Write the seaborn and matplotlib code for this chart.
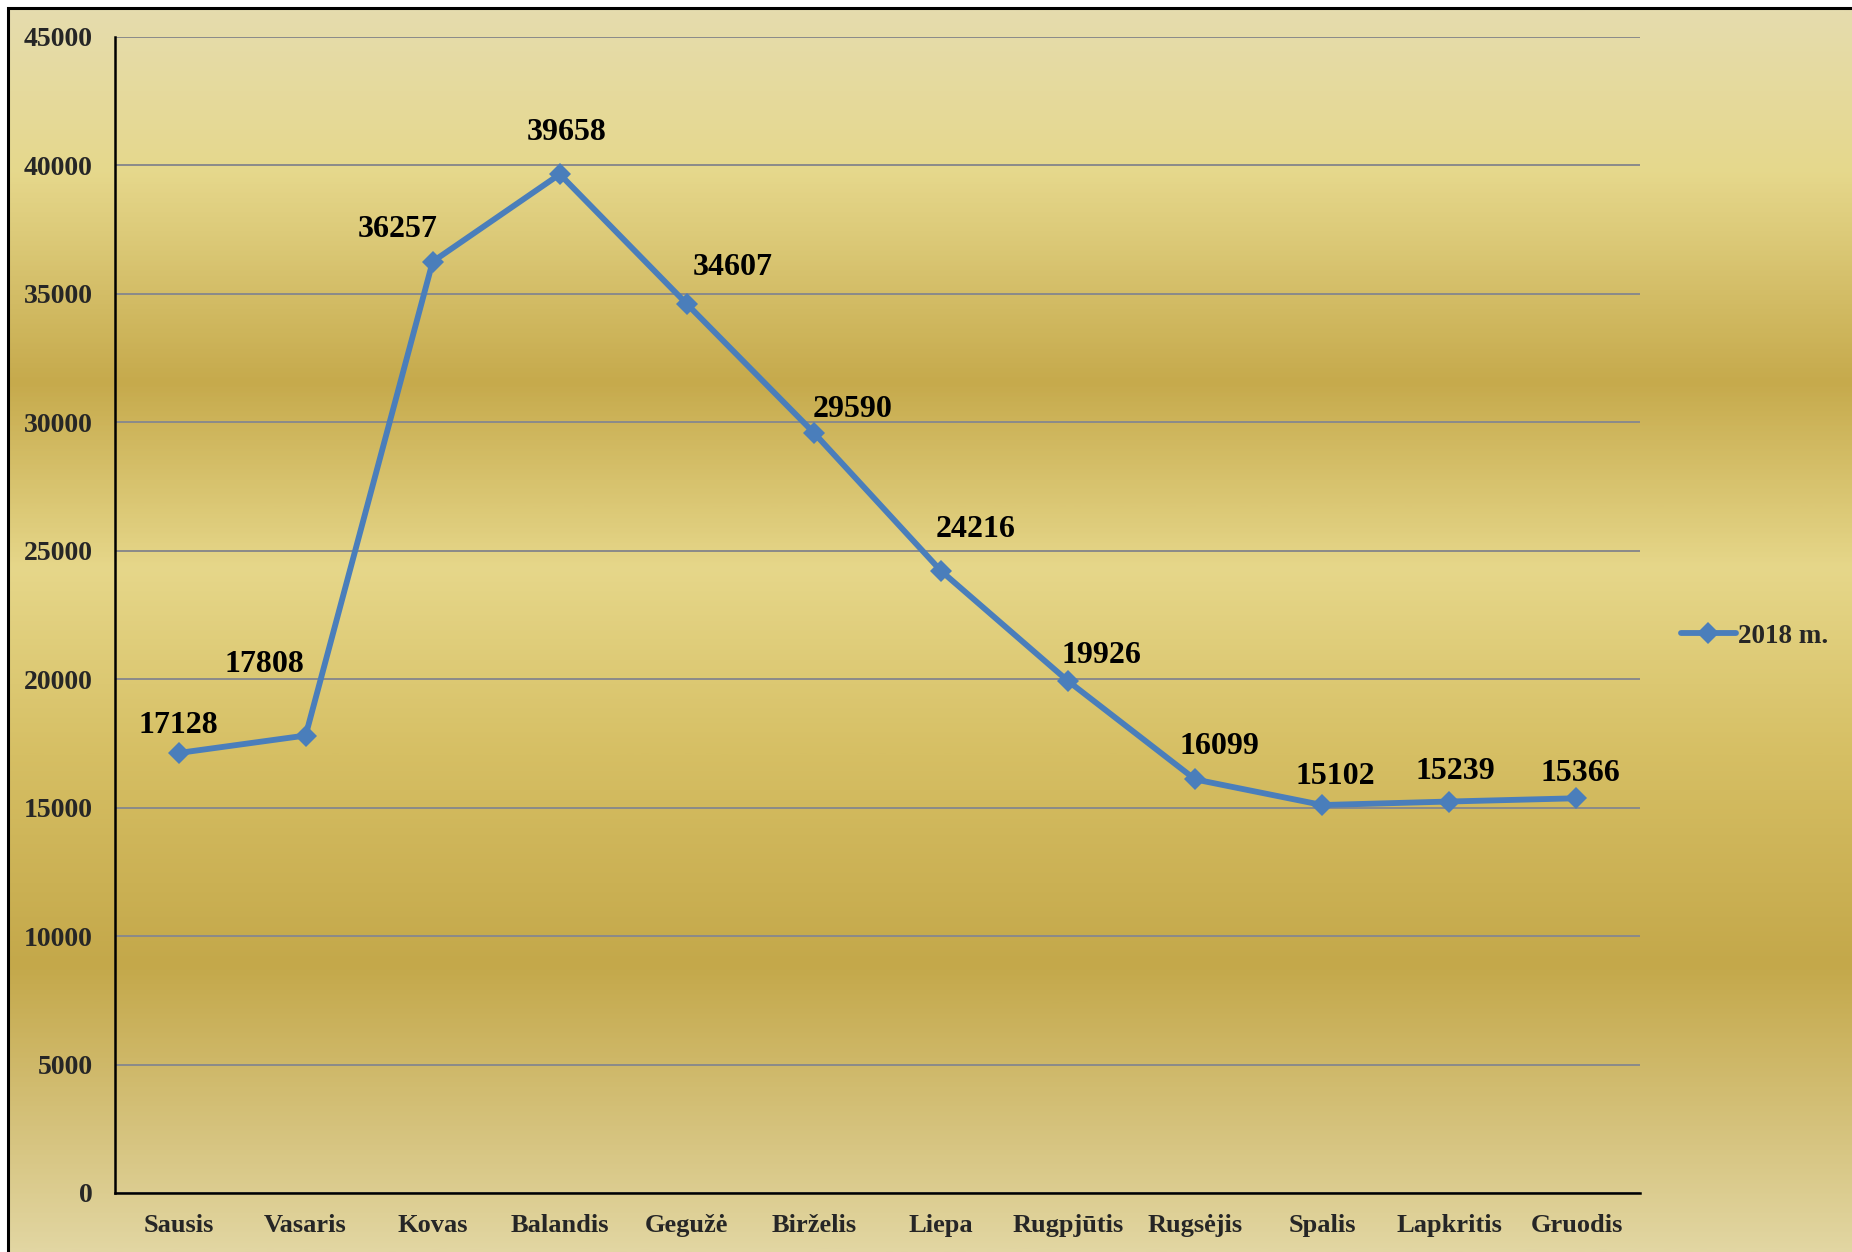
import numpy as np
import pandas as pd
import matplotlib.pyplot as plt
import seaborn as sns
from matplotlib.colors import LinearSegmentedColormap
from matplotlib.patches import Rectangle
from matplotlib.lines import Line2D

months = ['Sausis', 'Vasaris', 'Kovas', 'Balandis', 'Gegužė', 'Birželis',
          'Liepa', 'Rugpjūtis', 'Rugsėjis', 'Spalis', 'Lapkritis', 'Gruodis']
values = [17128, 17808, 36257, 39658, 34607, 29590,
          24216, 19926, 16099, 15102, 15239, 15366]
series_name = '2018 m.'
y_ticks = list(range(0, 45001, 5000))

# where the value labels sit relative to each point (pixels)
label_offsets = [(0, 28), (-41, 71), (-35, 32), (7, 42), (46, 36), (39, 23),
                 (35, 41), (33, 26), (24, 33), (13, 29), (6, 30), (4, 25)]

sns.set_style('white')
plt.rcParams['font.family'] = ['Liberation Serif', 'DejaVu Serif']
plt.rcParams['font.weight'] = 'bold'

line_color = '#4a7ebb'

fig = plt.figure(figsize=(18.52, 12.52), dpi=100)
fig.patch.set_facecolor('white')

# golden gradient background inside the outer frame
bg = fig.add_axes([8 / 1852, 0, 1 - 8 / 1852, 1 - 8 / 1252], zorder=-2)
gold = LinearSegmentedColormap.from_list('gold', [
    (0.0, '#e5dcae'), (0.13, '#e6d88c'), (0.30, '#c6aa4c'),
    (0.45, '#e6d78a'), (0.60, '#d6bf64'), (0.77, '#c4a84a'),
    (1.0, '#e2d6a2')])
grad = np.linspace(0, 1, 512).reshape(-1, 1)
bg.imshow(grad, aspect='auto', cmap=gold, extent=[0, 1, 0, 1], origin='upper')
bg.set_axis_off()
fig.patches.append(Rectangle((8 / 1852, -0.05), 1.2, 1.05 - 8 / 1252,
                             transform=fig.transFigure, fill=False,
                             edgecolor='black', linewidth=2.2, zorder=5))

ax = fig.add_axes([115 / 1852, 1 - 1193 / 1252, (1640 - 115) / 1852, (1193 - 37) / 1252])
ax.set_facecolor('none')

df = pd.DataFrame({'month': months, 'value': values})
sns.lineplot(data=df, x='month', y='value', ax=ax, sort=False, color=line_color,
             linewidth=4.2, marker='D', markersize=11, markeredgewidth=0, zorder=3)

for i, (v, off) in enumerate(zip(values, label_offsets)):
    ax.annotate(str(v), (i, v), xytext=off, textcoords='offset pixels',
                ha='center', va='center', fontsize=23, fontweight='bold', color='black')

ax.set_xlim(-0.5, len(months) - 0.5)
ax.set_ylim(0, 45000)
ax.set_yticks(y_ticks)
ax.set_yticklabels([str(t) for t in y_ticks])
ax.yaxis.grid(True, color='#8a8a8a', linewidth=1.4)
ax.xaxis.grid(False)
ax.set_axisbelow(True)

ax.set_xticks(np.arange(-0.5, len(months)), labels=[''] * (len(months) + 1))
ax.set_xticks(np.arange(len(months)), labels=months, minor=True)
ax.tick_params(axis='x', which='major', direction='out', length=6, width=1.5, color='black')
ax.tick_params(axis='x', which='minor', length=0, pad=15, labelsize=19)
ax.tick_params(axis='y', direction='out', length=6, width=1.5, color='black', pad=10, labelsize=20)
for lab in ax.get_xticklabels(minor=True) + ax.get_yticklabels():
    lab.set_fontweight('bold')

ax.set_xlabel('')
ax.set_ylabel('')
for side in ['top', 'right']:
    ax.spines[side].set_visible(False)
for side in ['left', 'bottom']:
    ax.spines[side].set_color('black')
    ax.spines[side].set_linewidth(1.8)

handle = Line2D([], [], color=line_color, linewidth=4.2, marker='D', markersize=11,
                markeredgewidth=0)
fig.legend([handle], [series_name], loc='center left',
           bbox_to_anchor=(1657 / 1852, 1 - 636 / 1252), frameon=False,
           handlelength=2.0, handletextpad=0.1, prop={'size': 19.5, 'weight': 'bold'})

fig.savefig('out.png', dpi=100, facecolor=fig.get_facecolor())
